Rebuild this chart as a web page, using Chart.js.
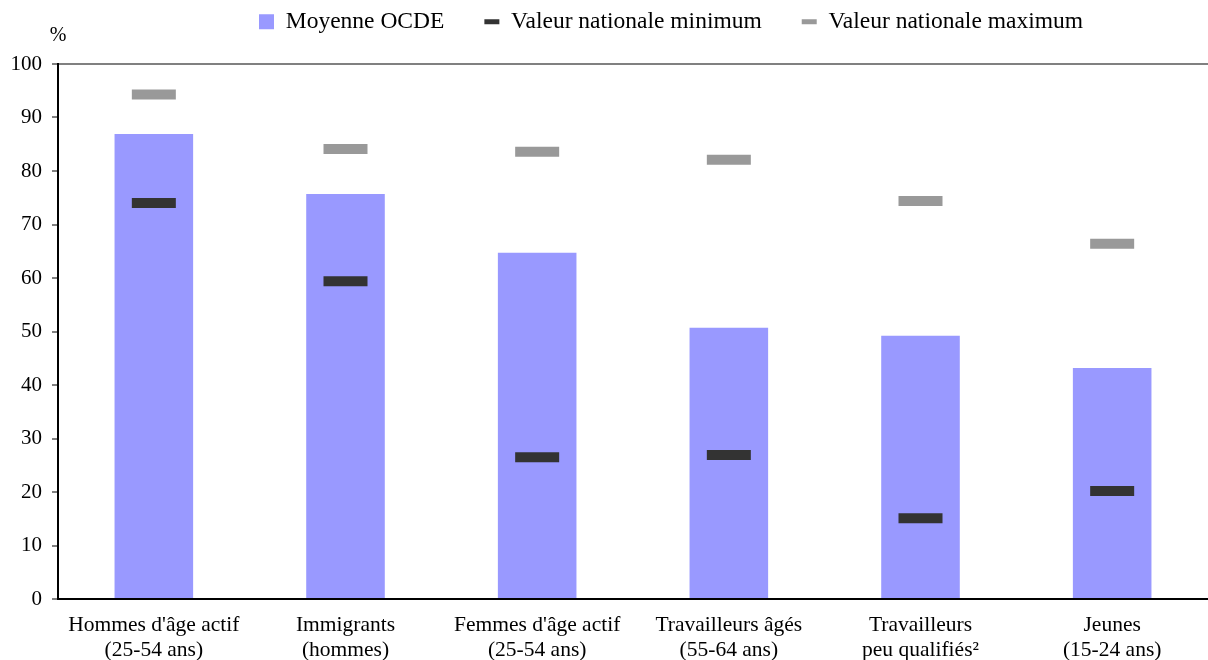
<!DOCTYPE html>
<html>
<head>
<meta charset="utf-8">
<script src="https://cdn.jsdelivr.net/npm/chart.js@4/dist/chart.umd.min.js"></script>
<style>
  html, body { margin: 0; padding: 0; background: #fff; }
  #wrap { width: 1208px; height: 660px; }
</style>
</head>
<body>
<div id="wrap"><canvas id="chart"></canvas></div>
<script>
"use strict";

const categories = [
  ["Hommes d'âge actif", "(25-54 ans)"],
  ["Immigrants", "(hommes)"],
  ["Femmes d'âge actif", "(25-54 ans)"],
  ["Travailleurs âgés", "(55-64 ans)"],
  ["Travailleurs", "peu qualifiés²"],
  ["Jeunes", "(15-24 ans)"],
];
const oecdAverage = [86.9, 75.7, 64.7, 50.7, 49.2, 43.2];
const nationalMin = [74.0, 59.4, 26.5, 26.9, 15.1, 20.2];
const nationalMax = [94.3, 84.1, 83.6, 82.1, 74.4, 66.4];

const seriesLabels = ["Moyenne OCDE", "Valeur nationale minimum", "Valeur nationale maximum"];
const colors = { bar: "#9999ff", min: "#333333", max: "#999999" };
const serif = "'Liberation Serif', 'Times New Roman', serif";

Chart.defaults.font.family = serif;
Chart.defaults.color = "#000";

// legend: fixed height so the plot starts at the same place, moved up and right
// (labels.padding is also used vertically by Chart.js, so we pull it back up)
const legendTweak = {
  id: "legendTweak",
  beforeInit(chart) {
    const fit = chart.legend.fit;
    chart.legend.fit = function () {
      fit.call(this);
      this.height = 64;
    };
  },
  afterLayout(chart) {
    const legend = chart.legend;
    legend.left += 67;
    legend.right += 67;
    legend.top -= 30;
    legend.bottom -= 30;
  },
};

// the "%" unit above the y axis
const unitLabel = {
  id: "unitLabel",
  afterDraw(chart) {
    const { ctx, chartArea } = chart;
    ctx.save();
    ctx.font = "20px " + serif;
    ctx.fillStyle = "#000";
    ctx.textAlign = "center";
    ctx.textBaseline = "middle";
    ctx.fillText("%", chartArea.left, chartArea.top - 28);
    ctx.restore();
  },
};

function markerDataset(label, data, color) {
  return {
    type: "line",
    label,
    data,
    order: 1,
    showLine: false,
    pointStyle: "line",
    pointRadius: 22,
    pointHoverRadius: 22,
    pointBorderWidth: 10,
    pointHoverBorderWidth: 10,
    pointBorderColor: color,
    pointBackgroundColor: color,
    borderColor: color,
  };
}

new Chart(document.getElementById("chart"), {
  type: "bar",
  data: {
    labels: categories,
    datasets: [
      {
        label: seriesLabels[0],
        data: oecdAverage,
        backgroundColor: colors.bar,
        barPercentage: 0.41,
        categoryPercentage: 1,
        order: 2,
      },
      markerDataset(seriesLabels[1], nationalMin, colors.min),
      markerDataset(seriesLabels[2], nationalMax, colors.max),
    ],
  },
  options: {
    responsive: true,
    maintainAspectRatio: false,
    animation: false,
    layout: { autoPadding: false, padding: 0 },
    plugins: {
      tooltip: { enabled: false },
      legend: {
        position: "top",
        labels: {
          usePointStyle: true,
          boxWidth: 15,
          boxHeight: 15,
          pointStyleWidth: 15,
          padding: 40,
          color: "#000",
          font: { size: 23.5 },
          generateLabels: () => [
            { text: seriesLabels[0], pointStyle: "rect", fillStyle: colors.bar, strokeStyle: colors.bar, lineWidth: 0, datasetIndex: 0 },
            { text: seriesLabels[1], pointStyle: "line", fillStyle: colors.min, strokeStyle: colors.min, lineWidth: 5, datasetIndex: 1 },
            { text: seriesLabels[2], pointStyle: "line", fillStyle: colors.max, strokeStyle: colors.max, lineWidth: 5, datasetIndex: 2 },
          ],
        },
      },
    },
    scales: {
      x: {
        grid: { display: false },
        border: { display: true, color: "#000", width: 2 },
        ticks: { color: "#000", font: { size: 21.5 }, padding: 5, maxRotation: 0, autoSkip: false },
        afterFit(scale) {
          scale.height = 61;
        },
      },
      y: {
        min: 0,
        max: 100,
        ticks: { stepSize: 10, color: "#000", font: { size: 21 }, padding: 10 },
        border: { display: true, color: "#000", width: 2 },
        grid: {
          color: (ctx) => (ctx.tick && ctx.tick.value === 100 ? "#808080" : "transparent"),
          lineWidth: 2,
          tickColor: "#000",
          tickLength: 6,
          tickWidth: 1,
        },
        afterFit(scale) {
          scale.width = 58;
        },
      },
    },
  },
  plugins: [legendTweak, unitLabel],
});
</script>
</body>
</html>
